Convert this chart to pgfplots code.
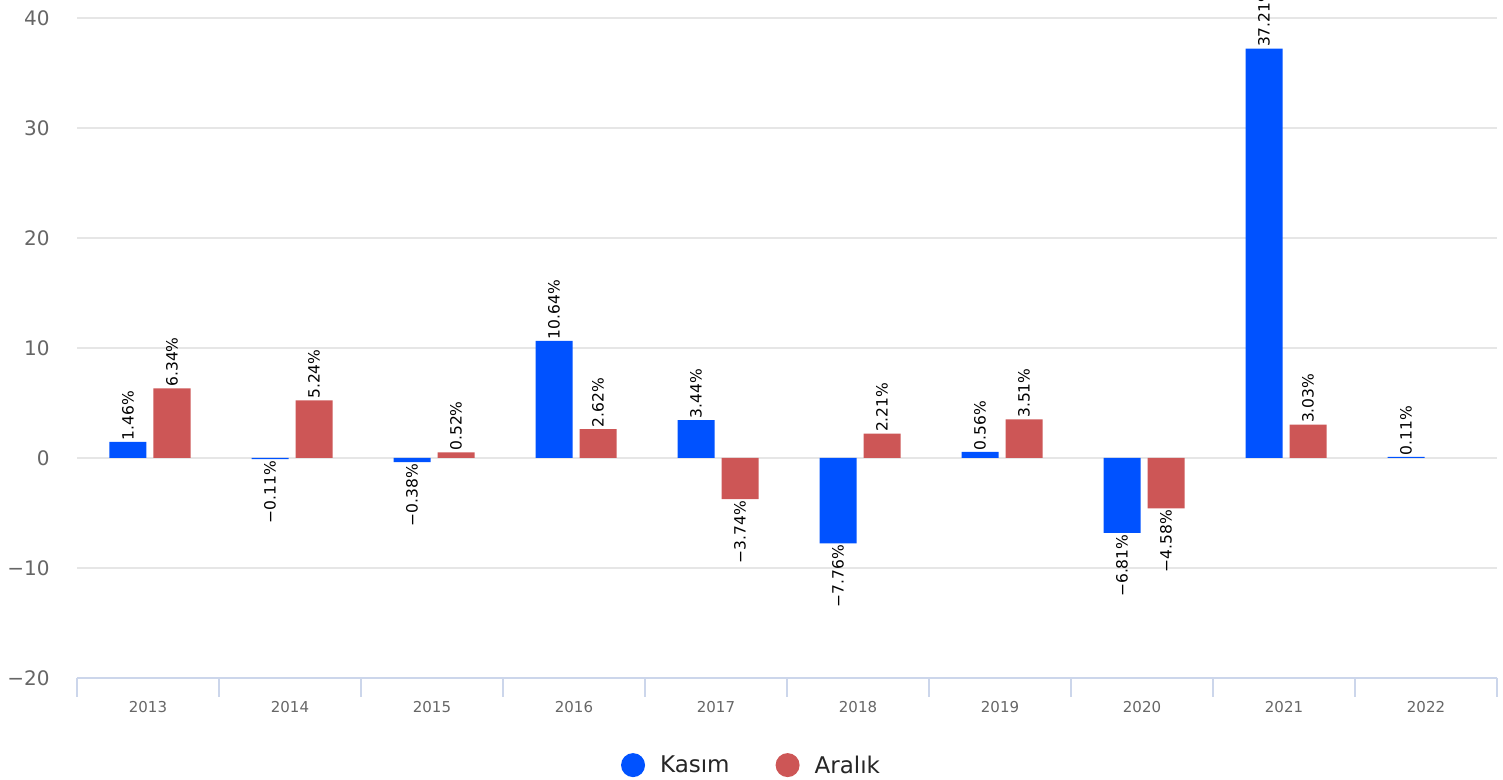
\documentclass[border=0pt]{standalone}
\usepackage{fontspec}
\setmainfont{DejaVu Sans}
\usepackage{pgfplots}
\pgfplotsset{compat=1.18}

\definecolor{kblue}{HTML}{0052FF}
\definecolor{ared}{HTML}{CD5656}
\definecolor{gridc}{HTML}{E6E6E6}
\definecolor{axisc}{HTML}{CCD6EB}
\definecolor{labc}{HTML}{666666}

\begin{document}
\begin{tikzpicture}
\begin{axis}[
    scale only axis,
    width=1420bp, height=660bp,
    xmin=-0.5, xmax=9.5,
    ymin=-20, ymax=40,
    enlargelimits=false,
    axis x line*=bottom, axis y line*=left,
    x axis line style={-, draw=axisc, line width=2bp},
    y axis line style={draw=none},
    ytick={-20,-10,0,10,20,30,40},
    yticklabels={−20,−10,0,10,20,30,40},
    ytick style={draw=none},
    ymajorgrids=true,
    grid style={draw=gridc, line width=1.5bp},
    yticklabel style={font=\fontsize{20bp}{24bp}\selectfont, text=labc, anchor=east, inner sep=0pt, xshift=-23bp},
    xtick={0,...,9},
    xticklabels={2013,2014,2015,2016,2017,2018,2019,2020,2021,2022},
    major x tick style={draw=none},
    minor xtick={-0.5,0.5,...,9.5},
    minor tick length=19bp,
    tick align=outside,
    minor x tick style={draw=axisc, line width=2bp},
    xticklabel style={font=\fontsize{15bp}{18bp}\selectfont, text=labc, anchor=north, inner sep=0pt, yshift=-19bp},
    ybar,
    bar width=37bp,
    point meta=explicit symbolic,
    visualization depends on=rawy \as \rawy,
    nodes near coords,
    every node near coord/.append style={font=\fontsize{15.5bp}{18bp}\selectfont, text=black, rotate=90, inner sep=1.5bp,
        anchor=\ifdim\rawy pt<0pt east\else west\fi},
    legend style={draw=none, fill=none, at={(0.475,-0.132)}, anchor=center,
        font=\fontsize{23bp}{27bp}\selectfont, text=black!85,
        /tikz/every odd column/.append style={column sep=13bp},
        /tikz/every even column/.append style={column sep=44bp}},
    legend columns=2,
    legend cell align=left,
]
\addplot[fill=kblue, draw=none, bar shift=-20bp,
    legend image code/.code={\fill[kblue] (0bp,0bp) circle (12bp);}]
coordinates {
(0,1.46) [1.46\%]
(1,-0.11) [−0.11\%]
(2,-0.38) [−0.38\%]
(3,10.64) [10.64\%]
(4,3.44) [3.44\%]
(5,-7.76) [−7.76\%]
(6,0.56) [0.56\%]
(7,-6.81) [−6.81\%]
(8,37.21) [37.21\%]
(9,0.11) [0.11\%]
};
\addlegendentry{Kasım}
\addplot[fill=ared, draw=none, bar shift=24bp,
    legend image code/.code={\fill[ared] (0bp,0bp) circle (12bp);}]
coordinates {
(0,6.34) [6.34\%]
(1,5.24) [5.24\%]
(2,0.52) [0.52\%]
(3,2.62) [2.62\%]
(4,-3.74) [−3.74\%]
(5,2.21) [2.21\%]
(6,3.51) [3.51\%]
(7,-4.58) [−4.58\%]
(8,3.03) [3.03\%]
};
\addlegendentry{Aralık}
\coordinate (bl) at (rel axis cs:0,0);
\coordinate (tr) at (rel axis cs:1,1);
\end{axis}
\pgfresetboundingbox
\path[use as bounding box] ([xshift=-77bp,yshift=-102bp]bl) rectangle ([xshift=6bp,yshift=18bp]tr);
\end{tikzpicture}
\end{document}
